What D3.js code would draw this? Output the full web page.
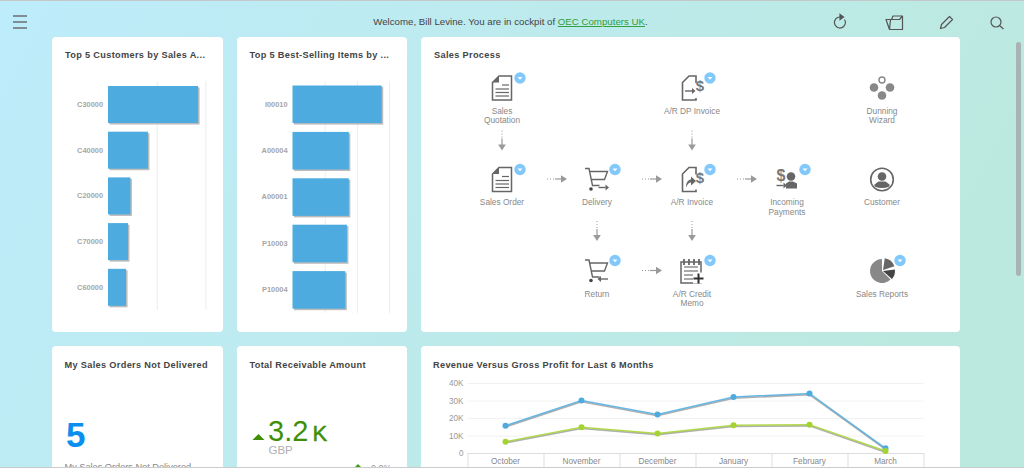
<!DOCTYPE html>
<html>
<head>
<meta charset="utf-8">
<script src="https://cdn.jsdelivr.net/npm/d3@7"></script>
<style>
html, body { margin: 0; padding: 0; overflow: hidden; width: 1024px; height: 468px; }
svg { display: block; font-family: "Liberation Sans", Arial, sans-serif; }
</style>
</head>
<body>
<div id="chart"></div>
<script>
// chart values
var customers = ["C30000", "C40000", "C20000", "C70000", "C60000"];
var customerSales = [185, 82, 46, 41, 37];
var items = ["I00010", "A00004", "A00001", "P10003", "P10004"];
var itemSales = [2.77, 1.75, 1.75, 1.69, 1.64];

var months = ["October", "November", "December", "January", "February", "March"];
var revenue = [15600, 30000, 22000, 32000, 34000, 2700];
var grossProfit = [6500, 14700, 11200, 15800, 16200, 1100];
var revenueTicks = [0, 10000, 20000, 30000, 40000];

var nodeNames = ["Sales\nQuotation", "A/R DP Invoice", "Dunning\nWizard", "Sales Order", "Delivery", "A/R Invoice",
    "Incoming\nPayments", "Customer", "Return", "A/R Credit\nMemo", "Sales Reports"];

var width = 1024, height = 468;
var blue = "#4eabe0", green = "#a5d32f", shadow = "#bbbbbb";
var badgeColor = "#82c8fb", iconDark = "#666", iconMid = "#888";

var svg = d3.select("#chart").append("svg").attr("width", width).attr("height", height);
var defs = svg.append("defs");
var grad = defs.append("linearGradient").attr("id", "bg").attr("x1", "0").attr("y1", "0").attr("x2", "1").attr("y2", "0.25");
grad.append("stop").attr("offset", "0").attr("stop-color", "#bdecfb");
grad.append("stop").attr("offset", "1").attr("stop-color", "#bce9df");
svg.append("rect").attr("width", width).attr("height", height).attr("fill", "url(#bg)");

// browser frame lines
svg.append("rect").attr("width", width).attr("height", 1).attr("fill", "#c4c8ca");

// cards
var cards = [
    [52, 37, 171, 295], [237, 37, 170, 295], [421, 37, 539, 295],
    [52, 346, 171, 140], [237, 346, 170, 140], [421, 346, 539, 140]
];
svg.selectAll("rect.card").data(cards).enter().append("rect")
    .attr("class", "card")
    .attr("x", function(d) { return d[0]; })
    .attr("y", function(d) { return d[1]; })
    .attr("width", function(d) { return d[2]; })
    .attr("height", function(d) { return d[3]; })
    .attr("rx", 4)
    .attr("fill", "#fff");

var titles = [
    ["Top 5 Customers by Sales A...", 65, 58], ["Top 5 Best-Selling Items by ...", 249.5, 58], ["Sales Process", 434, 58],
    ["My Sales Orders Not Delivered", 64.5, 367.5], ["Total Receivable Amount", 249.5, 367.5],
    ["Revenue Versus Gross Profit for Last 6 Months", 433, 367.5]
];
svg.selectAll("text.title").data(titles).enter().append("text")
    .attr("class", "title")
    .attr("x", function(d) { return d[1]; })
    .attr("y", function(d) { return d[2]; })
    .attr("font-size", 9.2)
    .attr("font-weight", "bold")
    .attr("letter-spacing", 0.33)
    .attr("fill", "#444")
    .text(function(d) { return d[0]; });

// header
svg.append("text").attr("x", 510.5).attr("y", 25).attr("text-anchor", "middle")
    .attr("font-size", 9.7).attr("fill", "#444")
    .html('Welcome, Bill Levine. You are in cockpit of <tspan fill="#2e9e3a" text-decoration="underline">OEC Computers UK</tspan>.');

var menu = svg.append("g").attr("stroke", "#666").attr("stroke-width", 1.4);
[16, 22, 28].forEach(function(y) {
    menu.append("line").attr("x1", 13).attr("x2", 27).attr("y1", y).attr("y2", y);
});

var tools = svg.append("g").attr("fill", "none").attr("stroke", "#555").attr("stroke-width", 1.2);
tools.append("path").attr("d", "M844.5 19.5a5.500 5.500 0 1 1-4.500-2.500");
tools.append("path").attr("d", "M840 14.500l3.500 2.500-3.500 2.500z").attr("fill", "#555");
tools.append("path").attr("d", "M886 19.500h5.500l1.500-3.500h9.500v13.500h-13zM890.500 19.500l-1 10M902.500 16l-3 3.500h-8").attr("stroke-linejoin", "round");
tools.append("path").attr("d", "M940.500 28.500l1-4 8-8 3 3-8 8z").attr("stroke-linejoin", "round");
tools.append("circle").attr("cx", 996).attr("cy", 22).attr("r", 5);
tools.append("line").attr("x1", 999.500).attr("y1", 25.500).attr("x2", 1003.500).attr("y2", 29);

// scrollbar
svg.append("rect").attr("x", 1016).attr("y", 42).attr("width", 5).attr("height", 234).attr("rx", 2.5).attr("fill", "#a9b3b3");

// horizontal bar charts
function barChart(names, values, opts) {
    var x = d3.scaleLinear().domain([0, opts.tickStep]).range([opts.x0, opts.x0 + opts.tickPx]);
    var y = d3.scaleBand().domain(names)
        .range([opts.top, opts.top + opts.step * (names.length - opts.pad)])
        .paddingInner(opts.pad).paddingOuter(0);
    var g = svg.append("g");

    g.selectAll("line.grid").data(opts.ticks).enter().append("line")
        .attr("x1", function(d) { return x(d) + 0.5; })
        .attr("x2", function(d) { return x(d) + 0.5; })
        .attr("y1", 81).attr("y2", opts.gridEnd)
        .attr("stroke", "#ededed");

    g.selectAll("rect.shadow").data(values).enter().append("rect")
        .attr("class", "shadow")
        .attr("x", x(0) + 1.5)
        .attr("y", function(d, i) { return y(names[i]) + 1.5; })
        .attr("width", function(d) { return x(d) - x(0); })
        .attr("height", y.bandwidth())
        .attr("fill", shadow);

    g.selectAll("rect.bar").data(values).enter().append("rect")
        .attr("class", "bar")
        .attr("x", x(0))
        .attr("y", function(d, i) { return y(names[i]); })
        .attr("width", function(d) { return x(d) - x(0); })
        .attr("height", y.bandwidth())
        .attr("fill", blue);

    var axis = g.append("g").attr("transform", "translate(" + x(0) + ",0)")
        .call(d3.axisLeft(y).tickSize(0).tickPadding(5));
    axis.select(".domain").remove();
    axis.selectAll("text").attr("font-size", 7.4).attr("font-weight", "bold")
        .attr("font-family", "Liberation Sans").attr("fill", "#a6a6a6");
}

barChart(customers, customerSales, { x0: 108, tickStep: 100, tickPx: 48.7, ticks: [100, 200], top: 86, step: 45.7, pad: 0.19, gridEnd: 310 });
barChart(items, itemSales, { x0: 292.5, tickStep: 1, tickPx: 32.2, ticks: [1, 2, 3], top: 85.5, step: 46.4, pad: 0.19, gridEnd: 313 });

// sales process flow
var colX = d3.scalePoint().domain([0, 1, 2, 3, 4]).range([502, 882]);
var rowY = d3.scalePoint().domain([0, 1, 2]).range([88, 271]);
var nodeLayout = [[0, 0, "doc", 1], [2, 0, "dp", 1], [4, 0, "dots", 0], [0, 1, "doc", 1], [1, 1, "cart", 1], [2, 1, "inv", 1],
    [3, 1, "pay", 1], [4, 1, "cust", 0], [1, 2, "ret", 1], [2, 2, "memo", 1], [4, 2, "pie", 1]];

function sheet(g) {
    // page outline, open on the right where the dollar sits
    g.append("path").attr("d", "M4-5v-7h-7l-6.500 6.500v17.500h13.500v-2").attr("fill", "none").attr("stroke", iconDark).attr("stroke-width", 1.6);
}
function docIcon(g) {
    g.append("path").attr("d", "M-3-12h12.500v24h-19v-17.500z").attr("fill", "#fff").attr("stroke", iconDark).attr("stroke-width", 1.5);
    g.append("path").attr("d", "M-3-12v6.500h-6.500z").attr("fill", iconDark);
    [-3, 1, 4.500, 8].forEach(function(y, i) {
        g.append("line").attr("x1", i == 0 ? 0 : -6.500).attr("x2", 7).attr("y1", y).attr("y2", y).attr("stroke", iconDark).attr("stroke-width", 1.2);
    });
}
function money(g, x, y, size) {
    g.append("text").attr("x", x).attr("y", y).attr("text-anchor", "middle").attr("font-size", size).attr("font-weight", "bold").attr("fill", "#777").text("$");
}
function smallArrow(g, x, y, dir) {
    var s = dir || 1;
    g.append("line").attr("x1", x).attr("x2", x + 7 * s).attr("y1", y).attr("y2", y).attr("stroke", iconDark).attr("stroke-width", 1.4);
    g.append("path").attr("d", "M" + (x + 7 * s) + " " + (y - 3) + "l" + (3.500 * s) + " 3l" + (-3.500 * s) + " 3z").attr("fill", iconDark);
}
function cart(g) {
    g.append("path").attr("d", "M-12-11h4l3.500 17h7M-7.500-8h18l-3 8h-13").attr("fill", "none").attr("stroke", iconDark).attr("stroke-width", 1.4);
    g.append("circle").attr("cx", -6).attr("cy", 9.500).attr("r", 1.800).attr("fill", "#444");
}
var icons = {
    doc: docIcon,
    dp: function(g) { sheet(g); smallArrow(g, -7, 3); money(g, 8, 3, 15); },
    inv: function(g) {
        sheet(g);
        g.append("path").attr("d", "M-6 8c0-6 3-8 5-8v-3l5 4.500-5 4.500v-3c-2 0-3 1-5 5z").attr("fill", iconDark);
        money(g, 8, 3, 15);
    },
    cart: function(g) { cart(g); smallArrow(g, 1.500, 8); },
    ret: function(g) { cart(g); smallArrow(g, 11, 8, -1); },
    pay: function(g) {
        money(g, -6, 1.500, 16);
        smallArrow(g, -10.500, 6);
        g.append("circle").attr("cx", 4).attr("cy", -3).attr("r", 4.300).attr("fill", iconDark);
        g.append("path").attr("d", "M-1 9v-5l3-2h4l4 2v5z").attr("fill", iconDark);
    },
    memo: function(g) {
        g.append("rect").attr("x", -11).attr("y", -9).attr("width", 20).attr("height", 21).attr("fill", "none").attr("stroke", iconDark).attr("stroke-width", 1.5);
        [-7, -2, 3, 8].forEach(function(x) {
            g.append("line").attr("x1", x - 1).attr("x2", x - 1).attr("y1", -12).attr("y2", -6).attr("stroke", iconDark).attr("stroke-width", 1.8);
        });
        [-4, 0, 4, 8].forEach(function(y, i) {
            g.append("line").attr("x1", -8).attr("x2", i < 2 ? 6 : 1).attr("y1", y).attr("y2", y).attr("stroke", iconDark).attr("stroke-width", 1.1);
        });
        g.append("rect").attr("x", 1).attr("y", 1.500).attr("width", 11).attr("height", 11).attr("fill", "#fff");
        g.append("path").attr("d", "M6.500 2.500v10M1.500 7.500h10").attr("stroke", "#333").attr("stroke-width", 2).attr("fill", "none");
    },
    dots: function(g) {
        g.append("circle").attr("cx", 0).attr("cy", -8).attr("r", 3).attr("fill", "#fff").attr("stroke", iconMid).attr("stroke-width", 1.4);
        [[-8, -0.500], [8, -0.500], [0, 7.500]].forEach(function(p) {
            g.append("circle").attr("cx", p[0]).attr("cy", p[1]).attr("r", 4.300).attr("fill", iconMid);
        });
    },
    cust: function(g) {
        g.append("circle").attr("r", 11.300).attr("fill", "none").attr("stroke", iconDark).attr("stroke-width", 1.6);
        g.append("circle").attr("cy", -3).attr("r", 4.300).attr("fill", iconDark);
        g.append("path").attr("d", "M-7.500 7v-2l4-3h7l4 3v2q-7.500 3-15 0z").attr("fill", iconDark);
    },
    pie: function(g) {
        var arc = d3.arc();
        g.append("path").attr("d", arc({ innerRadius: 0, outerRadius: 12, startAngle: 2.35, endAngle: 6.28 })).attr("fill", iconMid);
        g.append("path").attr("d", arc({ innerRadius: 0, outerRadius: 12, startAngle: 0.15, endAngle: 1.25 })).attr("fill", "#666").attr("transform", "translate(1,-1)");
        g.append("path").attr("d", arc({ innerRadius: 0, outerRadius: 12, startAngle: 1.45, endAngle: 2.3 })).attr("fill", "#444").attr("transform", "translate(1,0)");
    }
};

var flow = svg.append("g");
nodeLayout.forEach(function(n, i) {
    var g = flow.append("g").attr("transform", "translate(" + colX(n[0]) + "," + rowY(n[1]) + ")");
    icons[n[2]](g);
    if (n[3]) {
        var b = g.append("g").attr("transform", "translate(18," + (n[1] == 2 ? -10.500 : -10) + ")");
        b.append("circle").attr("r", 5.700).attr("fill", badgeColor);
        b.append("path").attr("d", "M-2.500-1h5l-2.500 2.800z").attr("fill", "#fff");
    }
    nodeNames[i].split("\n").forEach(function(line, j) {
        g.append("text").attr("y", 25.700 + j * 9.500).attr("text-anchor", "middle")
            .attr("font-size", 8.300).attr("fill", "#888").text(line);
    });
});

var arrowColor = "#999";
function flowArrow(x, y, vertical) {
    var g = flow.append("g").attr("transform", "translate(" + x + "," + y + ")" + (vertical ? " rotate(90)" : ""));
    g.append("line").attr("x1", -10).attr("x2", -2).attr("stroke", arrowColor).attr("stroke-dasharray", "1 2");
    g.append("line").attr("x1", -2).attr("x2", 5).attr("stroke", arrowColor).attr("stroke-width", 1.2);
    g.append("path").attr("d", "M4-3.800l6 3.800-6 3.800z").attr("fill", arrowColor);
}
[[0, 1], [2, 1]].forEach(function(p) { flowArrow(colX(p[0]), rowY(p[1]) - 39, true); });
[[1, 2], [2, 2]].forEach(function(p) { flowArrow(colX(p[0]), rowY(p[1]) - 40, true); });
[[0, 1], [1, 1], [2, 1], [1, 2]].forEach(function(p) { flowArrow(colX(p[0]) + 55, rowY(p[1]) - 0.500, false); });

// KPI tiles
svg.append("text").attr("x", 66).attr("y", 447).attr("font-size", 35).attr("font-weight", "bold").attr("fill", "#0a8fee").text("5");
svg.append("text").attr("x", 64.500).attr("y", 470).attr("font-size", 9.200).attr("fill", "#888").text("My Sales Orders Not Delivered");

var kpiGreen = "#3f8f06";
svg.append("path").attr("d", "M252.500 440l6-6 6 6z").attr("fill", kpiGreen);
svg.append("text").attr("x", 268).attr("y", 440.500).attr("font-size", 29).attr("fill", kpiGreen).text("3.2");
svg.append("text").attr("x", 312.500).attr("y", 440.500).attr("font-size", 22).attr("fill", kpiGreen)
    .attr("stroke", kpiGreen).attr("stroke-width", 0.5).text("K");
svg.append("text").attr("x", 268.500).attr("y", 453.500).attr("font-size", 11.500).attr("fill", "#b0b0b0").text("GBP");
svg.append("path").attr("d", "M355 467l3-3 3 3z").attr("fill", "#3f9f16");
svg.append("text").attr("x", 371).attr("y", 471).attr("font-size", 9).attr("fill", "#999").text("0.0%");

// revenue line chart
var x = d3.scaleBand().domain(months).range([467.5, 923.5]);
var y = d3.scaleLinear().domain([0, 40000]).range([453, 383]);
var lines = svg.append("g");

lines.selectAll("line.h").data(revenueTicks).enter().append("line")
    .attr("x1", 467.500).attr("x2", 923.500)
    .attr("y1", function(d) { return y(d) + 0.5; })
    .attr("y2", function(d) { return y(d) + 0.5; })
    .attr("stroke", function(d) { return d == 0 ? "#ddd" : "#f2f2f2"; });

var yAxis = lines.append("g").attr("transform", "translate(467.5,0)")
    .call(d3.axisLeft(y).tickValues(revenueTicks).tickSize(0).tickPadding(4)
        .tickFormat(function(d) { return d == 0 ? "0" : d / 1000 + "K"; }));
yAxis.select(".domain").remove();
yAxis.selectAll("text").attr("font-size", 8.200).attr("font-family", "Liberation Sans").attr("fill", "#999");

lines.selectAll("line.v").data(months.concat(["end"])).enter().append("line")
    .attr("x1", function(d) { return (d == "end" ? 923.5 : x(d)) + 0.5; })
    .attr("x2", function(d) { return (d == "end" ? 923.5 : x(d)) + 0.5; })
    .attr("y1", 453).attr("y2", 468)
    .attr("stroke", "#ddd");

lines.selectAll("text.month").data(months).enter().append("text")
    .attr("class", "month")
    .attr("x", function(d) { return x(d) + x.bandwidth() / 2; })
    .attr("y", 464)
    .attr("text-anchor", "middle")
    .attr("font-size", 8.200)
    .attr("fill", "#888")
    .text(function(d) { return d; });

var line = d3.line()
    .x(function(d, i) { return x(months[i]) + x.bandwidth() / 2; })
    .y(function(d) { return y(d); });

[[revenue, blue], [grossProfit, green]].forEach(function(s) {
    lines.append("path").attr("d", line(s[0])).attr("fill", "none").attr("stroke", "#b0b0b0").attr("stroke-width", 1.6).attr("transform", "translate(0,1.2)");
    lines.append("path").attr("d", line(s[0])).attr("fill", "none").attr("stroke", s[1]).attr("stroke-width", 1.5).attr("opacity", 0.85);
    lines.selectAll(null).data(s[0]).enter().append("circle")
        .attr("cx", function(d, i) { return x(months[i]) + x.bandwidth() / 2; })
        .attr("cy", function(d) { return y(d); })
        .attr("r", 3)
        .attr("fill", s[1]);
});

// window edge over the bottom of the page
svg.append("rect").attr("y", 467).attr("width", width).attr("height", 1).attr("fill", "#c9cbcc");
</script>
</body>
</html>
